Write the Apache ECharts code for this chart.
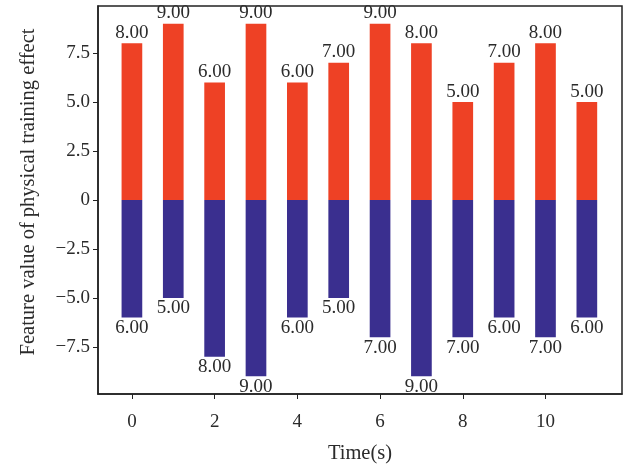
<!DOCTYPE html>
<html>
<head>
<meta charset="utf-8">
<script src="https://cdn.jsdelivr.net/npm/echarts@6/dist/echarts.min.js"></script>
<style>
  html, body { margin: 0; padding: 0; background: #fff; }
  #chart { width: 627px; height: 466px; }
</style>
</head>
<body>
<div id="chart"></div>
<script>
// time steps and the two feature series (lower one drawn below zero)
const timeSteps = [0, 1, 2, 3, 4, 5, 6, 7, 8, 9, 10, 11];
const upperValues = [8, 9, 6, 9, 6, 7, 9, 8, 5, 7, 8, 5];
const lowerValues = [-6, -5, -8, -9, -6, -5, -7, -9, -7, -6, -7, -6];
const xTicks = [0, 2, 4, 6, 8, 10];
const yTicks = [-7.5, -5, -2.5, 0, 2.5, 5, 7.5];

const chart = echarts.init(document.getElementById('chart'));
const font = 'Liberation Serif';
const fontSize = 19;
const nameSize = 20.5;
const textColor = '#2b2b2b';

const fmtY = v => {
    if (!yTicks.some(t => Math.abs(t - v) < 1e-6)) return '';
    if (v === 0) return '0';
    return v.toFixed(1).replace('-', '\u2212');
};

const option = {
    backgroundColor: '#fff',
    animation: false,
    grid: {
        left: 98,
        right: 5,
        top: 6,
        bottom: 72,
        outerBoundsMode: 'none',
        show: true,
        borderColor: '#222',
        borderWidth: 1.5,
        backgroundColor: 'transparent'
    },
    xAxis: {
        type: 'value',
        min: -0.82,
        max: 11.85,
        name: 'Time(s)',
        nameLocation: 'middle',
        nameGap: 49,
        nameTextStyle: { fontFamily: font, fontSize: nameSize, color: textColor },
        axisLine: { show: true, onZero: false, lineStyle: { color: '#222', width: 1.5 } },
        axisTick: { show: true, length: 5, lineStyle: { color: '#222' },
            customValues: xTicks },
        axisLabel: {
            fontFamily: font, fontSize: fontSize, color: textColor, margin: 19,
            customValues: xTicks,
            formatter: v => String(v)
        },
        splitLine: { show: false }
    },
    yAxis: {
        type: 'value',
        min: -9.9,
        max: 9.9,
        name: 'Feature value of physical training effect',
        nameLocation: 'middle',
        nameGap: 59,
        nameTextStyle: { fontFamily: font, fontSize: nameSize, color: textColor,
            padding: [0, 0, 0, 16] },
        axisLine: { show: true, onZero: false, lineStyle: { color: '#222', width: 1.5 } },
        axisTick: { show: true, length: 5, lineStyle: { color: '#222' },
            customValues: yTicks },
        axisLabel: {
            fontFamily: font, fontSize: fontSize, color: textColor, margin: 8,
            customValues: yTicks,
            formatter: fmtY
        },
        splitLine: { show: false }
    },
    series: [
        {
            type: 'bar',
            data: timeSteps.map((t, i) => [t, upperValues[i]]),
            barWidth: '50%',
            barGap: '-100%',
            itemStyle: { color: '#EE4125' },
            label: {
                show: true,
                position: 'top',
                distance: 1,
                fontFamily: font,
                fontSize: fontSize,
                color: textColor,
                formatter: p => Math.abs(p.value[1]).toFixed(2)
            }
        },
        {
            type: 'bar',
            data: timeSteps.map((t, i) => [t, lowerValues[i]]),
            barWidth: '50%',
            barGap: '-100%',
            itemStyle: { color: '#3A2F8F' },
            label: {
                show: true,
                position: 'bottom',
                distance: 1,
                fontFamily: font,
                fontSize: fontSize,
                color: textColor,
                formatter: p => Math.abs(p.value[1]).toFixed(2)
            }
        }
    ]
};

chart.setOption(option);
</script>
</body>
</html>
